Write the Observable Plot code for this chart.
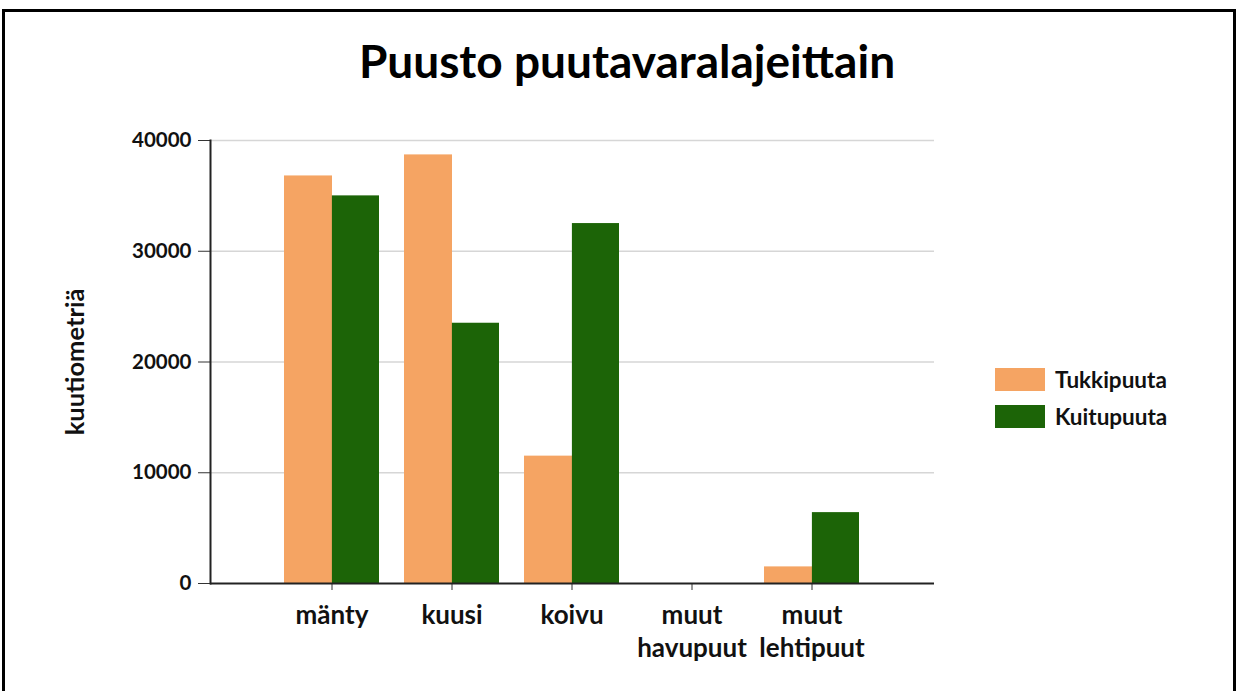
<!DOCTYPE html>
<html><head><meta charset="utf-8">
<script src="https://cdn.jsdelivr.net/npm/d3@7"></script>
<script src="https://cdn.jsdelivr.net/npm/@observablehq/plot@0.6"></script>
<style>
body{margin:0;background:#fff;font-family:Lato,"Open Sans",sans-serif;}
#wrap{position:relative;width:1240px;height:691px;overflow:hidden;background:#fff;}
#border{position:absolute;left:2px;top:9px;width:1234px;height:700px;border:3px solid #000;box-sizing:border-box;}
#title{position:absolute;left:0;width:1254px;top:33px;text-align:center;font-weight:bold;font-size:46px;color:#000;}
#chart{position:absolute;left:0;top:0;}
.leg{position:absolute;left:995px;display:flex;align-items:center;font-weight:bold;font-size:22.5px;color:#111;}
.sw{width:50px;height:23px;margin-right:10px;}
</style></head>
<body>
<div id="wrap">
  <div id="border"></div>
  <div id="chart"></div>
  <div id="title">Puusto puutavaralajeittain</div>
  <div id="legend"></div>
</div>
<script>
const categories = ["mänty", "kuusi", "koivu", "muut havupuut", "muut lehtipuut"];
const xTickLabels = ["mänty", "kuusi", "koivu", "muut\nhavupuut", "muut\nlehtipuut"];
const seriesNames = ["Tukkipuuta", "Kuitupuuta"];
const tukkipuuta = [36800, 38700, 11500, 0, 1500];
const kuitupuuta = [35000, 23500, 32500, 0, 6400];
const yTicks = [0, 10000, 20000, 30000, 40000];
const yLabel = "kuutiometriä";
const colors = ["#F5A463", "#1C6407"];

const tukkiData = categories.map((c, i) => ({cat: c, series: seriesNames[0], value: tukkipuuta[i]}));
const kuituData = categories.map((c, i) => ({cat: c, series: seriesNames[1], value: kuitupuuta[i]}));

const plot = Plot.plot({
  width: 1240, height: 691,
  marginLeft: 210, marginRight: 306, marginTop: 140, marginBottom: 108,
  style: {fontFamily: "Lato, sans-serif", fontWeight: "bold", color: "#111", background: "transparent"},
  x: {domain: categories, paddingInner: 0.207, paddingOuter: 0.6},
  y: {domain: [0, 40000]},
  color: {domain: seriesNames, range: colors},
  marks: [
    Plot.ruleY(yTicks.filter(d => d > 0), {stroke: "#d6d6d6", strokeWidth: 1.5}),
    Plot.barY(tukkiData, {x: "cat", y: "value", fill: "series", insetRight: 47}),
    Plot.barY(kuituData, {x: "cat", y: "value", fill: "series", insetLeft: 47.9}),
    Plot.axisY({ticks: yTicks, tickFormat: d => String(d), tickSize: 12, tickPadding: 7, fontSize: 20.5, stroke: "#333", label: null}),
    Plot.text([yLabel], {frameAnchor: "left", textAnchor: "middle", dx: -135, rotate: -90, fontSize: 25.5, fontWeight: "bold", fill: "#111", text: d => d}),
    Plot.axisX({tickFormat: d => xTickLabels[categories.indexOf(d)], tickSize: 7, tickPadding: 10, fontSize: 26, lineHeight: 1.27, stroke: "#333", label: null}),
    Plot.frame({anchor: "left", stroke: "#222", strokeWidth: 2}),
    Plot.ruleY([0], {stroke: "#222", strokeWidth: 2})
  ]
});
document.getElementById("chart").appendChild(plot);

const legend = document.getElementById("legend");
seriesNames.forEach((s, i) => {
  const row = document.createElement("div");
  row.className = "leg";
  row.style.top = (366 + i * 37) + "px";
  row.innerHTML = `<div class="sw" style="background:${colors[i]}"></div><span>${s}</span>`;
  legend.appendChild(row);
});
</script>
</body></html>
